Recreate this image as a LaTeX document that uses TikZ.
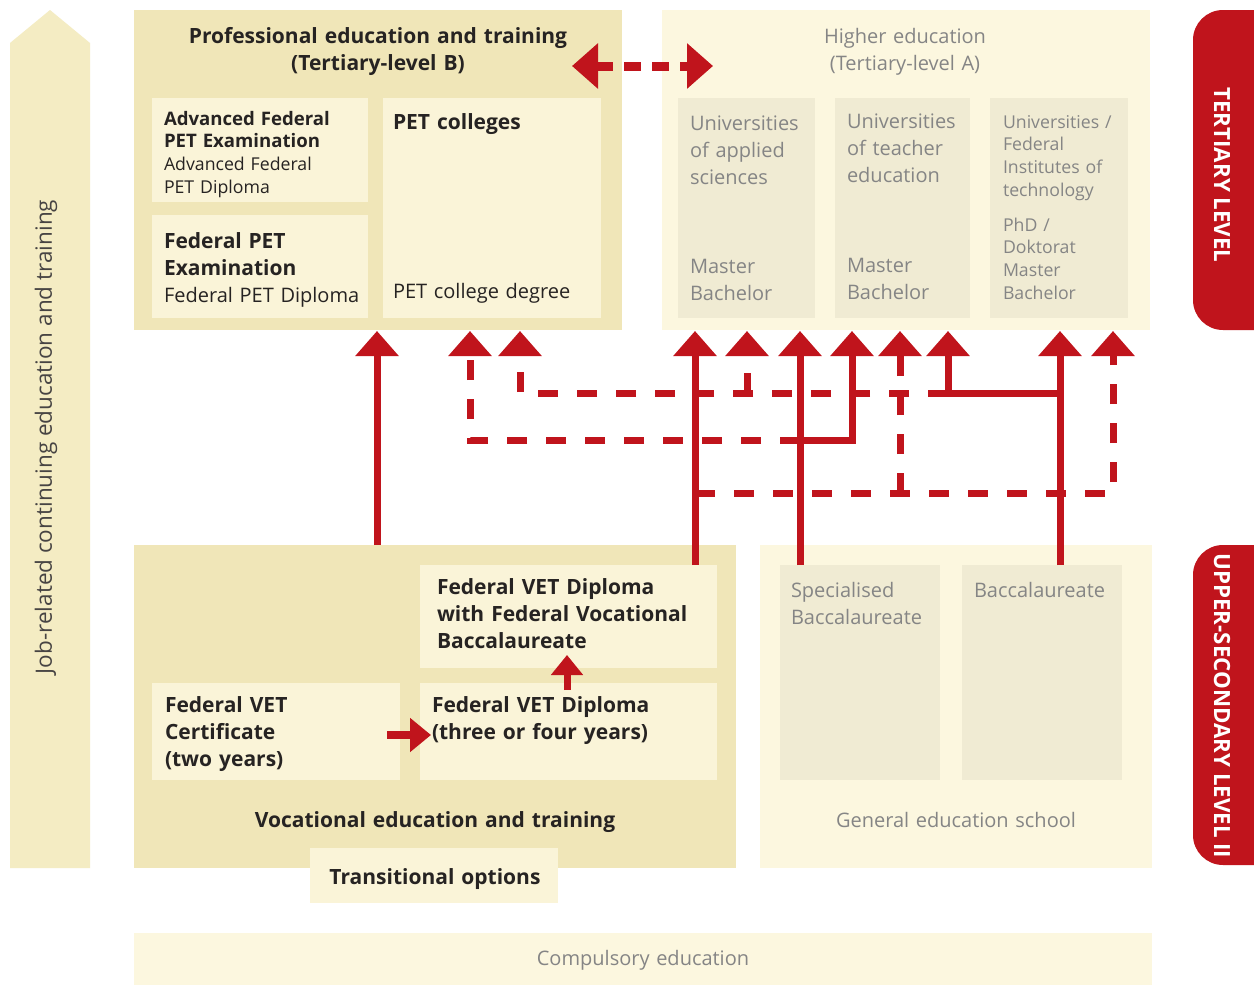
\documentclass[tikz,border=0pt]{standalone}
\usepackage{fontspec}
\setmainfont{Open Sans}
\usetikzlibrary{arrows.meta}
\definecolor{redc}{HTML}{C0141C}
\definecolor{outerdark}{HTML}{F0E6B8}
\definecolor{innerlight}{HTML}{FAF4D8}
\definecolor{outerlight}{HTML}{FCF7DF}
\definecolor{innergray}{HTML}{F0EBD3}
\definecolor{leftarr}{HTML}{F4ECC3}
\definecolor{darktxt}{HTML}{262322}
\definecolor{graytxt}{HTML}{858585}
\newcommand\fBig{\fontsize{20}{27}\selectfont}
\newcommand\fBold{\fontsize{21}{27}\selectfont\bfseries}
\newcommand\fSmall{\fontsize{17.7}{22.8}\selectfont}
\newcommand\fSmallBold{\fontsize{18.6}{22.8}\selectfont\bfseries}
\begin{document}
\begin{tikzpicture}[x=1pt,y=-1pt,
  box/.style={rectangle, inner sep=0pt, outer sep=0pt, anchor=north west, draw=none},
  txt/.style={inner sep=0pt, outer sep=0pt, anchor=base west, align=left, text width=#1, font=\fBig, text=darktxt},
  txt/.default=260pt,
  ctxt/.style={inner sep=0pt, outer sep=0pt, anchor=base, align=center, text width=#1, font=\fBig, text=darktxt},
  ctxt/.default=460pt,
  solidarrow/.style={draw=redc, line width=7pt, line join=miter, -{Triangle[width=42pt,length=25pt]}},
  dasharrow/.style={draw=redc, line width=7pt, dash pattern=on 20pt off 19pt, -{Triangle[width=42pt,length=25pt]}},
  badge/.style={fill=redc, rounded corners=30pt},
  badgetxt/.style={inner sep=0pt, rotate=-90, text=white, font=\fontsize{22.3}{24}\selectfont\bfseries}
]
\useasboundingbox (0,0) rectangle (1254,985);
\fill[white] (0,0) rectangle (1254,985);

% left arrow
\fill[leftarr] (10,43) -- (50,10) -- (90,43) -- (90,868) -- (10,868) -- cycle;
\node[inner sep=0pt, rotate=90, text=darktxt!85, font=\fontsize{22.5}{24}\selectfont] (jobtxt) at (46,437) {Job-related continuing education and training};

% badges
\fill[badge] (1193,10) rectangle (1290,330);
\node[badgetxt] (tertiary) at (1222,175) {TERTIARY LEVEL};
\fill[badge] (1193,545) rectangle (1290,865);
\node[badgetxt] (upper) at (1222,706) {UPPER-SECONDARY LEVEL II};

% PET block
\node[box, fill=outerdark, minimum width=488pt, minimum height=320pt] (pet) at (134,10) {};
\node[ctxt, font=\fBold] (pettitle) at (378,43) {Professional education and training\\(Tertiary-level B)};
\node[box, fill=innerlight, minimum width=216pt, minimum height=104pt] (advbox) at (152,98) {};
\node[txt, font=\fSmall] (advtxt) at (164,125) {{\fSmallBold Advanced Federal}\\{\fSmallBold PET Examination}\\Advanced Federal\\PET Diploma};
\node[box, fill=innerlight, minimum width=216pt, minimum height=103pt] (fedbox) at (152,215) {};
\node[txt] (fedtxt) at (164,248) {{\fBold Federal PET}\\{\fBold Examination}\\Federal PET Diploma};
\node[box, fill=innerlight, minimum width=218pt, minimum height=220pt] (colbox) at (383,98) {};
\node[txt, font=\fBold] (coltitle) at (393,129) {PET colleges};
\node[txt] (coldeg) at (393,298) {PET college degree};

% Higher education block
\node[box, fill=outerlight, minimum width=488pt, minimum height=320pt] (he) at (662,10) {};
\node[ctxt, text=graytxt] (hetitle) at (905,43) {Higher education\\(Tertiary-level A)};
\node[box, fill=innergray, minimum width=137pt, minimum height=220pt] (uas) at (678,98) {};
\node[txt=130pt, text=graytxt] (uastxt) at (690,130) {Universities\\of applied\\sciences};
\node[txt=130pt, text=graytxt] (uasdeg) at (690,273) {Master\\Bachelor};
\node[box, fill=innergray, minimum width=135pt, minimum height=220pt] (ute) at (835,98) {};
\node[txt=130pt, text=graytxt] (utetxt) at (847,128) {Universities\\of teacher\\education};
\node[txt=130pt, text=graytxt] (utedeg) at (847,272) {Master\\Bachelor};
\node[box, fill=innergray, minimum width=138pt, minimum height=220pt] (uni) at (990,98) {};
\node[txt=135pt, font=\fSmall, text=graytxt] (unitxt) at (1003,128) {Universities /\\Federal\\Institutes of\\technology};
\node[txt=135pt, font=\fSmall, text=graytxt] (unideg) at (1003,231) {PhD /\\Doktorat\\Master\\Bachelor};

% VET block
\node[box, fill=outerdark, minimum width=602pt, minimum height=323pt] (vet) at (134,545) {};
\node[box, fill=innerlight, minimum width=297pt, minimum height=103pt] (vetbm) at (420,565) {};
\node[txt=295pt, font=\fBold] (vetbmtxt) at (437,594) {Federal VET Diploma\\with Federal Vocational\\Baccalaureate};
\node[box, fill=innerlight, minimum width=248pt, minimum height=97pt] (cert) at (152,683) {};
\node[txt=240pt, font=\fBold] (certtxt) at (165,712) {Federal VET\\Certificate\\(two years)};
\node[box, fill=innerlight, minimum width=297pt, minimum height=97pt] (dipl) at (420,683) {};
\node[txt=290pt, font=\fBold] (dipltxt) at (432,712) {Federal VET Diploma\\(three or four years)};
\node[ctxt, font=\fBold] (vettitle) at (435,827) {Vocational education and training};
\node[box, fill=innerlight, minimum width=248pt, minimum height=55pt] (trans) at (310,848) {};
\node[ctxt, font=\fBold] (transtxt) at (435,884) {Transitional options};

% General education block
\node[box, fill=outerlight, minimum width=392pt, minimum height=323pt] (gen) at (760,545) {};
\node[box, fill=innergray, minimum width=160pt, minimum height=215pt] (spec) at (780,565) {};
\node[txt=155pt, text=graytxt] (spectxt) at (791,597) {Specialised\\Baccalaureate};
\node[box, fill=innergray, minimum width=160pt, minimum height=215pt] (bacc) at (962,565) {};
\node[txt=155pt, text=graytxt] (bacctxt) at (974,597) {Baccalaureate};
\node[ctxt=380pt, text=graytxt] (gentxt) at (956,827) {General education school};

% Compulsory education
\node[box, fill=outerlight, minimum width=1018pt, minimum height=60pt] (comp) at (134,933) {};
\node[ctxt=600pt, text=graytxt] (comptxt) at (643,965) {Compulsory education};

% connector coordinates
\coordinate (s1) at (377,545);  \coordinate (e1) at (377,331);
\coordinate (s2) at (695,565);  \coordinate (e2) at (695,331);
\coordinate (s3) at (800,565);  \coordinate (e3) at (800,331);
\coordinate (j3) at (800,440);  \coordinate (k3) at (852,440); \coordinate (e4) at (852,331);
\coordinate (m5) at (470,440);  \coordinate (e5) at (470,331);
\coordinate (s6) at (1060,565); \coordinate (e6) at (1060,331);
\coordinate (j6) at (1060,393); \coordinate (k6) at (948,393); \coordinate (e7) at (948,331);
\coordinate (m8) at (520,393);  \coordinate (e8) at (520,331);
\coordinate (j9) at (747,393);  \coordinate (e9) at (747,331);
\coordinate (j10) at (695,493); \coordinate (k10) at (1113,493); \coordinate (e10) at (1113,331);
\coordinate (j11) at (900,493); \coordinate (e11) at (900,331);

% dashed connectors
\draw[dasharrow] (j3) -- (m5) -- (e5);
\draw[dasharrow] (k6) -- (m8) -- (e8);
\draw[dasharrow] (j9) -- (e9);
\draw[dasharrow] (j10) -- (k10) -- (e10);
\draw[dasharrow] (j11) -- (e11);

% solid connectors
\draw[solidarrow] (s1) -- (e1);
\draw[solidarrow] (s2) -- (e2);
\draw[solidarrow] (s3) -- (e3);
\draw[solidarrow] (j3) -- (k3) -- (e4);
\draw[solidarrow] (s6) -- (e6);
\draw[solidarrow] (j6) -- (k6) -- (e7);

% double dashed arrow between tertiary blocks
\coordinate (dl) at (572,66); \coordinate (dr) at (713,66);
\draw[draw=redc, line width=9pt, dash pattern=on 17pt off 11pt,
  {Triangle[width=44pt,length=26pt]}-{Triangle[width=44pt,length=26pt]}] (dl) -- (dr);

% small arrows in VET block
\coordinate (h1) at (387,735); \coordinate (h2) at (431,735);
\draw[draw=redc, line width=8pt, -{Triangle[width=33pt,length=21pt]}] (h1) -- (h2);
\coordinate (v1) at (567,690); \coordinate (v2) at (567,655);
\draw[draw=redc, line width=7pt, -{Triangle[width=31pt,length=20pt]}] (v1) -- (v2);
\end{tikzpicture}
\end{document}
